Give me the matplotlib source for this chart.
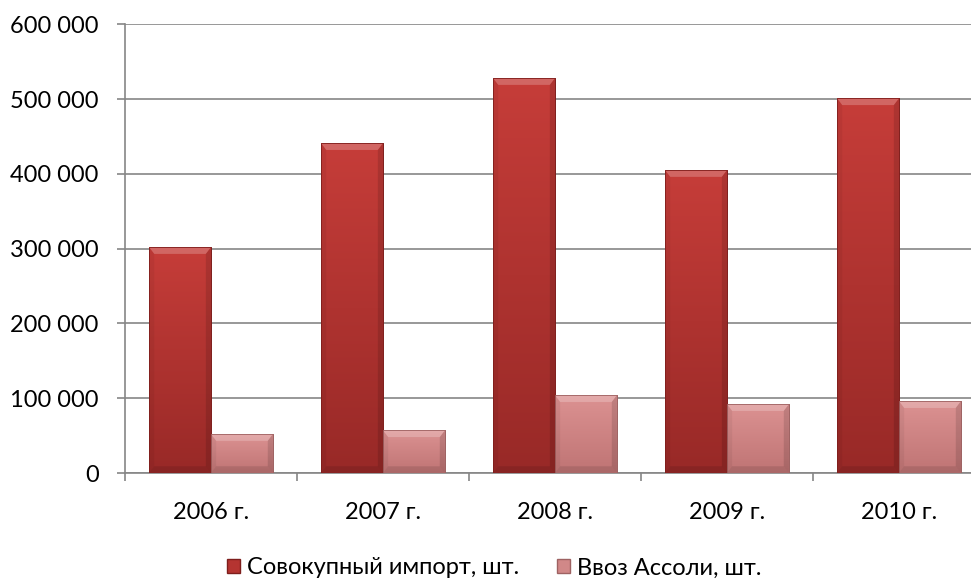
import matplotlib
matplotlib.use("Agg")
import matplotlib.pyplot as plt
import numpy as np
from matplotlib.colors import LinearSegmentedColormap
from matplotlib.ticker import FuncFormatter, FixedLocator

plt.rcParams['font.family'] = ['Lato', 'DejaVu Sans']

years = ["2006 г.", "2007 г.", "2008 г.", "2009 г.", "2010 г."]
total_import = [302000, 441000, 528000, 405000, 501000]
assoli_import = [52000, 57000, 104000, 92000, 96000]
series_names = ["Совокупный импорт, шт.", "Ввоз Ассоли, шт."]

FS = 17

fig = plt.figure(figsize=(9.71, 5.79), dpi=100)
ax = fig.add_axes([125/971, 1-473/579, 860/971, (473-24.3)/579])

x = np.arange(len(years))
w = 0.36
red_cmap = LinearSegmentedColormap.from_list("r", ["#C63D39", "#982927"])
pink_cmap = LinearSegmentedColormap.from_list("p", ["#DC9292", "#BF7474"])

b1 = ax.bar(x - w/2, total_import, w, color="#B53431", edgecolor="#7E1E1C", linewidth=0.6,
            label=series_names[0], zorder=3)
b2 = ax.bar(x + w/2, assoli_import, w, color="#D18888", edgecolor="#9E6262", linewidth=0.6,
            label=series_names[1], zorder=3)

grad = np.linspace(0, 1, 256).reshape(-1, 1)
for bars, cmap in ((b1, red_cmap), (b2, pink_cmap)):
    for p in bars:
        x0, y0 = p.get_x(), p.get_y()
        x1, y1 = x0 + p.get_width(), y0 + p.get_height()
        im = ax.imshow(grad, cmap=cmap, extent=[x0, x1, y0, y1], origin='upper',
                       aspect='auto', zorder=3.5)
        im.set_clip_path(p)
        bev = 9000
        dx = 0.03
        ax.fill([x0, x1, x1 - dx, x0 + dx], [y1, y1, y1 - bev, y1 - bev],
                color="white", alpha=0.22, lw=0, zorder=3.6)
        ax.fill([x0, x0 + dx, x0 + dx, x0], [y1, y1 - bev, y0 + bev, y0],
                color="black", alpha=0.05, lw=0, zorder=3.6)
        ax.fill([x1, x1 - dx, x1 - dx, x1], [y1, y1 - bev, y0 + bev, y0],
                color="black", alpha=0.12, lw=0, zorder=3.6)
        ax.fill([x0, x1, x1 - dx, x0 + dx], [y0, y0, y0 + bev, y0 + bev],
                color="black", alpha=0.10, lw=0, zorder=3.6)
        ax.add_patch(plt.Rectangle((x0, y0), x1 - x0, y1 - y0, fill=False,
                                   edgecolor=p.get_edgecolor(), lw=0.6, zorder=3.7))

ax.set_xlim(-0.5, len(years) - 0.5)
ax.set_ylim(0, 600000)
ax.set_yticks(np.arange(0, 600001, 100000))
ax.yaxis.set_major_formatter(FuncFormatter(lambda v, p: f"{int(v):,}".replace(",", " ")))
ax.grid(axis='y', color="#868686", linewidth=1.2, zorder=0)
ax.set_axisbelow(True)

ax.xaxis.set_major_locator(FixedLocator(np.arange(-0.5, len(years), 1.0)))
ax.xaxis.set_major_formatter(FuncFormatter(lambda v, p: ""))
ax.set_xticks(x, minor=True)
ax.set_xticklabels(years, minor=True)
ax.tick_params(axis='x', which='minor', length=0, pad=21, labelsize=FS, labelcolor="black")
ax.tick_params(axis='x', which='major', length=6, color="#868686", width=1.2)
ax.tick_params(axis='y', length=6, color="#868686", width=1.2, labelsize=FS, pad=13)

for s in ("top", "right"):
    ax.spines[s].set_visible(False)
for s in ("left", "bottom"):
    ax.spines[s].set_color("#868686")
    ax.spines[s].set_linewidth(1.2)

handles = [plt.Rectangle((0, 0), 1, 1, facecolor="#B53431", edgecolor="#7E1E1C"),
           plt.Rectangle((0, 0), 1, 1, facecolor="#D18888", edgecolor="#9E6262")]
fig.legend(handles, series_names, loc="center", bbox_to_anchor=(494/971, 1 - 568/579),
           ncol=2, frameon=False, fontsize=FS, handlelength=0.55, handleheight=0.55,
           handletextpad=0.3, columnspacing=1.6, borderpad=0)

fig.savefig("out.png", dpi=100)
